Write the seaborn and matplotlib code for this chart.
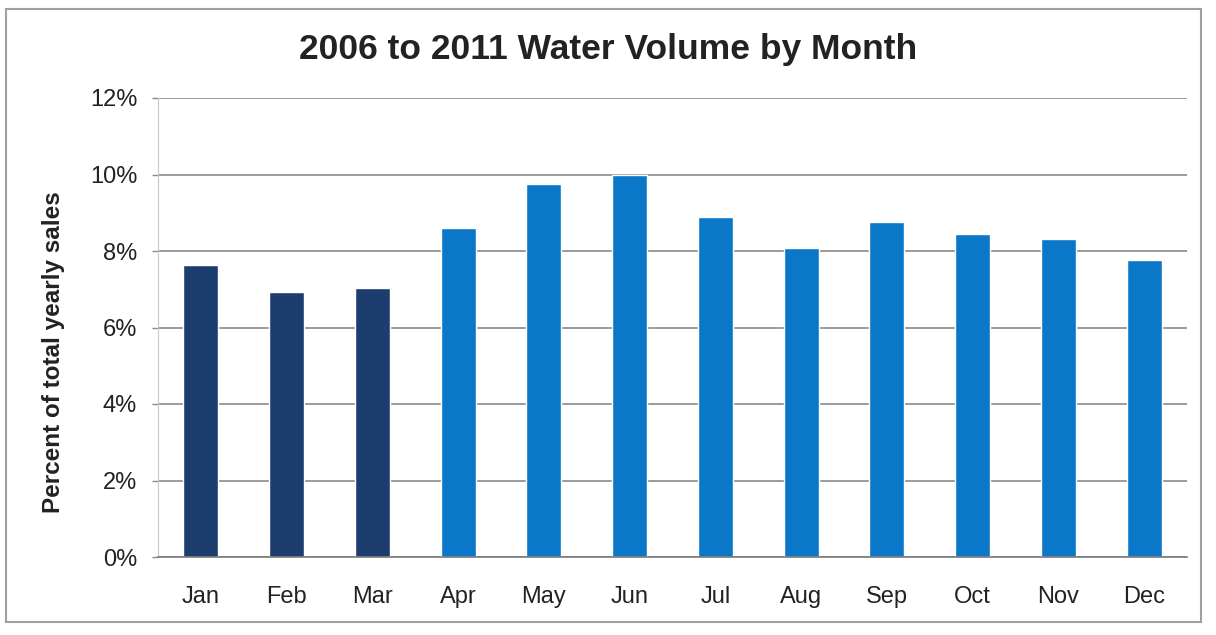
import matplotlib
matplotlib.use("Agg")
import matplotlib.pyplot as plt
import seaborn as sns
import pandas as pd
from matplotlib.patches import Rectangle
from matplotlib.ticker import FuncFormatter

months = ["Jan", "Feb", "Mar", "Apr", "May", "Jun", "Jul", "Aug", "Sep", "Oct", "Nov", "Dec"]
values = [7.64, 6.94, 7.03, 8.61, 9.74, 9.98, 8.89, 8.08, 8.76, 8.45, 8.31, 7.77]
season = ["Q1", "Q1", "Q1", "Rest", "Rest", "Rest", "Rest", "Rest", "Rest", "Rest", "Rest", "Rest"]
colors = {"Q1": "#1d3d6e", "Rest": "#0a77c9"}

df = pd.DataFrame({"month": months, "value": values, "season": season})

sns.set_theme(style="white")
plt.rcParams["font.family"] = ["Liberation Sans", "DejaVu Sans"]

fig = plt.figure(figsize=(12.16, 6.35), dpi=100)
ax = fig.add_axes([158 / 1216, 1 - 557 / 635, (1187 - 158) / 1216, (557 - 98) / 635])

sns.barplot(data=df, x="month", y="value", hue="season", palette=colors,
            width=0.41, dodge=False, legend=False, ax=ax, saturation=1)

ax.set_ylim(0, 12)
ax.set_yticks(range(0, 13, 2))
ax.yaxis.set_major_formatter(FuncFormatter(lambda v, p: f"{int(v)}%"))
ax.grid(axis="y", color="#8a8a8a", linewidth=1.2)
ax.set_axisbelow(True)
for s in ["top", "right"]:
    ax.spines[s].set_visible(False)
ax.spines["left"].set_color("#c8c8c8")
ax.spines["left"].set_linewidth(0.8)
ax.spines["bottom"].set_color("#7a7a7a")
ax.spines["bottom"].set_linewidth(1.2)
ax.tick_params(axis="y", labelsize=17, pad=11, labelcolor="#222222", length=4,
               width=1, color="#8a8a8a", left=True)
ax.tick_params(axis="x", labelsize=17, pad=21, labelcolor="#222222", length=0)
ax.set_xlabel("")
ax.set_ylabel("")

fig.text(54 / 1216, 1 - 352 / 635, "Percent of total yearly sales", rotation=90,
         ha="center", va="center", fontsize=17.5, fontweight="bold", color="#222222")

fig.text(0.5, 1 - 49 / 635, "2006 to 2011 Water Volume by Month", ha="center", va="center",
         fontsize=25.5, fontweight="bold", color="#222222")

fig.patches.append(Rectangle((6 / 1216, 1 - 622 / 635), (1201 - 6) / 1216, (622 - 9) / 635,
                             transform=fig.transFigure, fill=False, edgecolor="#a0a0a0",
                             linewidth=1.5))

fig.savefig("out.png", dpi=100)
